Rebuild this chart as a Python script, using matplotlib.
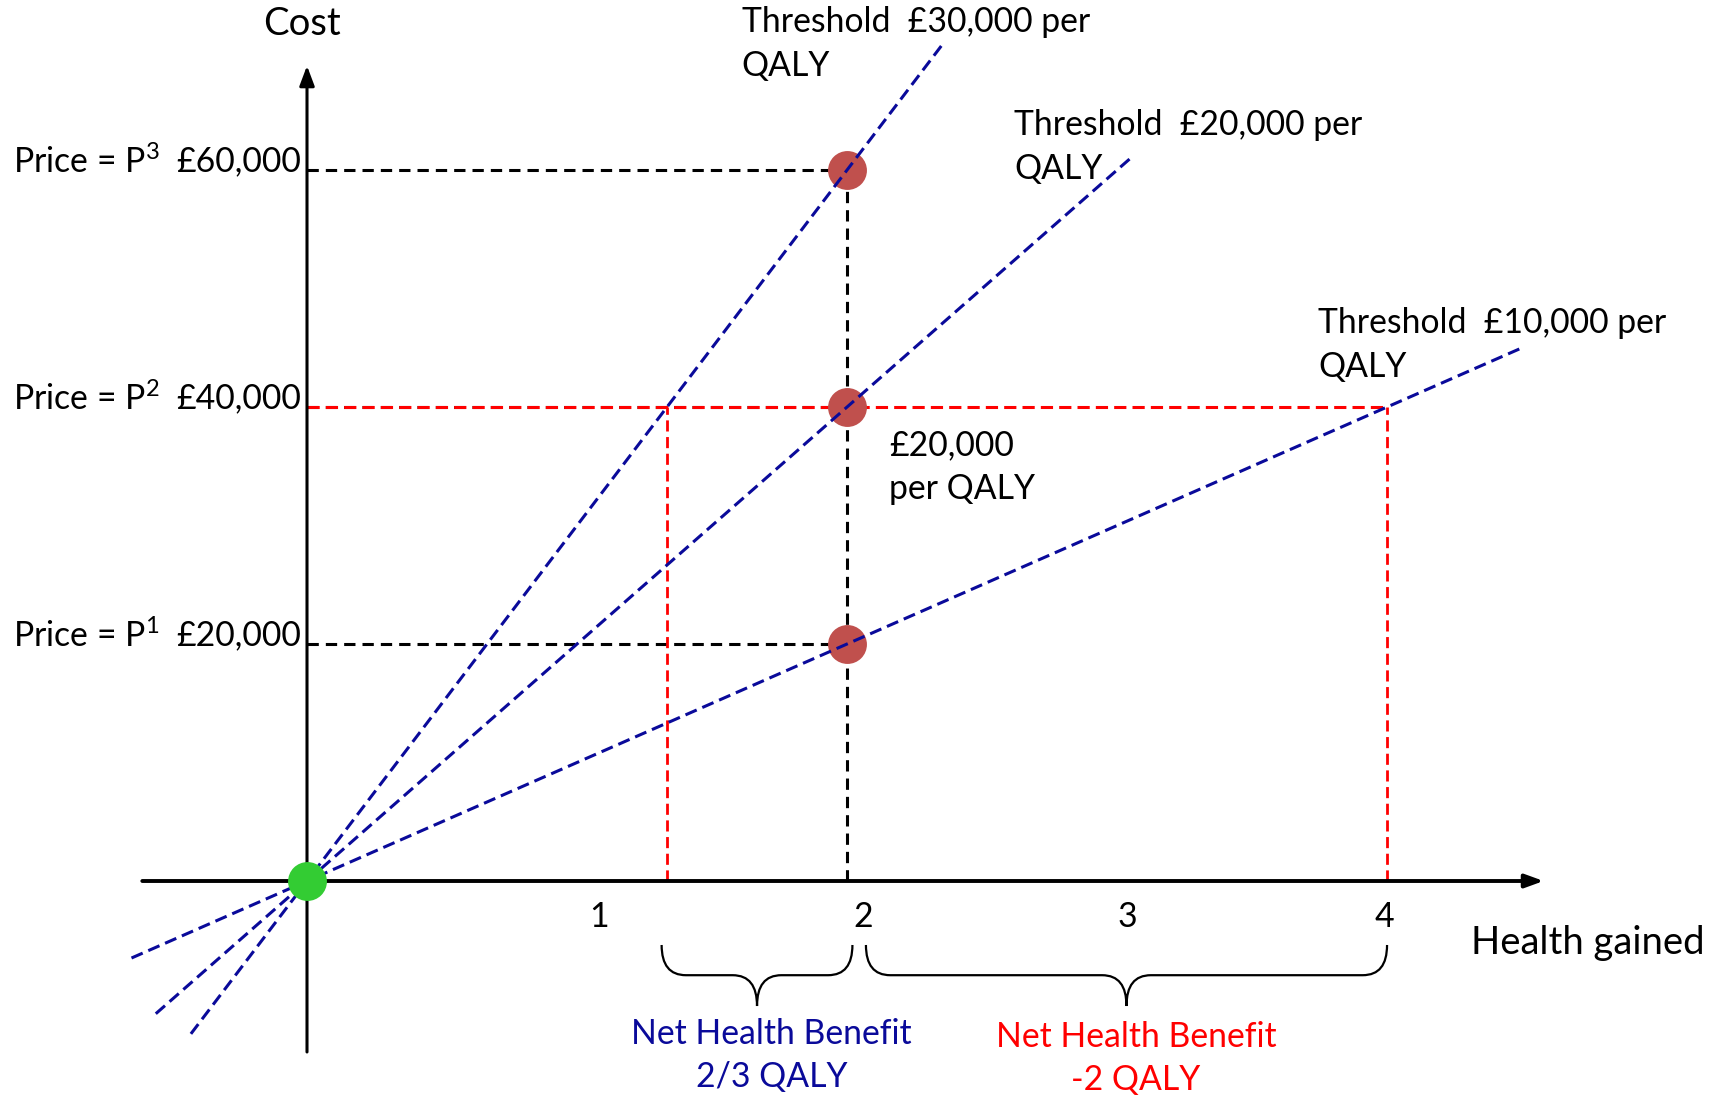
import numpy as np
import matplotlib.pyplot as plt
from matplotlib.path import Path
from matplotlib.patches import PathPatch

plt.rcParams['font.family'] = ['Lato', 'DejaVu Sans']
plt.rcParams['mathtext.fontset'] = 'custom'
plt.rcParams['mathtext.rm'] = 'Lato'

# Thresholds (cost per QALY) and where each dashed line starts / ends (QALY)
thresholds = [30000, 20000, 10000]
line_start = [-0.43, -0.56, -0.65]
line_end = [2.35, 3.06, 4.5]

# Prices of the drug and health gained by it
prices = [20000, 40000, 60000]
price_names = [r"Price = P$^{\mathregular{1}}$", r"Price = P$^{\mathregular{2}}$",
               r"Price = P$^{\mathregular{3}}$"]
price_labels = ["\u00a320,000", "\u00a340,000", "\u00a360,000"]
health_gain = 2

ticks = [1, 2, 3, 4]

# Price at which net health benefit is compared
nhb_price = 40000
nhb_thresholds = [30000, 10000]

blue = "#0A0A9A"
red = "#FF0000"
dash = (0, (4, 2))

fig = plt.figure(figsize=(17.27, 10.95), dpi=100)
ax = fig.add_axes([0, 0, 1, 1])
ax.set_xlim(-1.137, 5.259)
ax.set_ylim(-18060, 74350)
ax.axis("off")

# axes with arrows
ax.annotate("", xy=(4.58, 0), xytext=(-0.61, 0),
            arrowprops=dict(arrowstyle="-|>,head_length=1.1,head_width=0.4",
                            color="black", lw=2.8, shrinkA=0, shrinkB=0))
ax.annotate("", xy=(0, 68800), xytext=(0, -14430),
            arrowprops=dict(arrowstyle="-|>,head_length=1.2,head_width=0.45",
                            color="black", lw=2.2, shrinkA=0, shrinkB=0))

# threshold lines
for t, x0, x1 in zip(thresholds, line_start, line_end):
    xs = np.array([x0, x1])
    ax.plot(xs, t * xs, color=blue, lw=2.2, ls=dash, zorder=3)

# black guides at the prices, plus vertical at health gain
for p in prices:
    ax.plot([0, health_gain], [p, p], color="black", lw=2.2,
            ls=(0, (3.7, 2.3)), zorder=2)
ax.plot([health_gain, health_gain], [0, max(prices)], color="black", lw=2.2,
        ls=(0, (3.7, 2.3)), zorder=2)

# red guides for price P2
nhb_x = [nhb_price / t for t in nhb_thresholds]
ax.plot([0, max(nhb_x)], [nhb_price, nhb_price], color=red, lw=2.2, ls=dash,
        zorder=2.5)
for x in nhb_x:
    ax.plot([x, x], [0, nhb_price], color=red, lw=2.0, ls=dash, zorder=2.5)

# points
ax.plot([health_gain] * len(prices), prices, "o", ms=28, color="#C0504D",
        mec="none", zorder=2.8)
ax.plot([0], [0], "o", ms=28, color="#33CC33", mec="none", zorder=4)


# curly braces under axis
def brace(x0, x1, ytop=-5400, ybar=-7950, ytip=-10550, r=0.09):
    xm = (x0 + x1) / 2
    verts = [(x0, ytop), (x0, ybar), (x0 + r, ybar),
             (xm - r, ybar), (xm, ybar), (xm, ytip),
             (xm, ybar), (xm + r, ybar),
             (x1 - r, ybar), (x1, ybar), (x1, ytop)]
    codes = [Path.MOVETO, Path.CURVE3, Path.CURVE3,
             Path.LINETO, Path.CURVE3, Path.CURVE3,
             Path.CURVE3, Path.CURVE3,
             Path.LINETO, Path.CURVE3, Path.CURVE3]
    ax.add_patch(PathPatch(Path(verts, codes), fill=False, lw=1.6,
                           edgecolor="black"))


brace(min(nhb_x) - 0.02, health_gain + 0.02)
brace(health_gain + 0.07, max(nhb_x))

# texts
fs = 24.3
ax.text(-0.02, 72300, "Cost", fontsize=27.5, ha="center", va="center")
ax.text(4.31, -5230, "Health gained", fontsize=27.5, ha="left", va="center")
for t, off in zip(ticks, [0.08, 0.06, 0.04, -0.01]):
    ax.text(t + off, -3040, str(t), fontsize=fs, ha="center", va="center")

for p, name, lab in zip(prices, price_names, price_labels):
    ax.text(-1.09, p + 700, name, fontsize=fs, ha="left", va="center")
    ax.text(-0.02, p + 700, lab, fontsize=fs, ha="right", va="center")

ax.text(1.61, 70630, "Threshold  \u00a330,000 per\nQALY", fontsize=fs,
        ha="left", va="center", linespacing=1.45)
ax.text(2.62, 61940, "Threshold  \u00a320,000 per\nQALY", fontsize=fs,
        ha="left", va="center", linespacing=1.45)
ax.text(3.745, 45230, "Threshold  \u00a310,000 per\nQALY", fontsize=fs,
        ha="left", va="center", linespacing=1.45)
ax.text(2.155, 34940, "\u00a320,000\nper QALY", fontsize=fs,
        ha="left", va="center", linespacing=1.45)

ax.text(1.72, -14750, "Net Health Benefit\n2/3 QALY", fontsize=fs, color=blue,
        ha="center", va="center", linespacing=1.42)
ax.text(3.07, -14950, "Net Health Benefit\n-2 QALY", fontsize=fs, color=red,
        ha="center", va="center", linespacing=1.42)

fig.savefig("out.png", dpi=100)
